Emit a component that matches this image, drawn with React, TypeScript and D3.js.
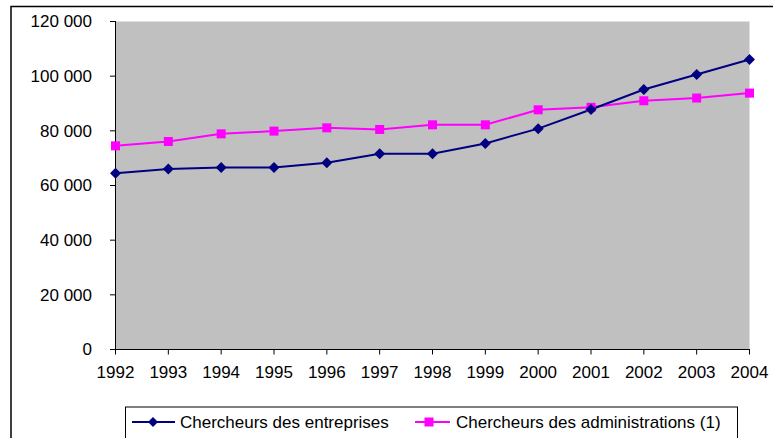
import React from 'react';
import * as d3 from 'd3';

const years = ['1992', '1993', '1994', '1995', '1996', '1997', '1998', '1999', '2000', '2001', '2002', '2003', '2004'];
const entreprises = [64500, 66000, 66600, 66600, 68300, 71600, 71600, 75400, 80800, 87800, 95100, 100600, 106100];
const administrations = [74500, 76100, 78900, 79900, 81100, 80500, 82200, 82200, 87700, 88600, 91000, 92000, 93800];
const yTicks = [0, 20000, 40000, 60000, 80000, 100000, 120000];
const seriesNames = ['Chercheurs des entreprises', 'Chercheurs des administrations (1)'];

const W = 773;
const H = 438;
const FONT = 'Liberation Sans, Arial, sans-serif';

const fr = d3.formatLocale({ decimal: ',', thousands: ' ', grouping: [3], currency: ['', ''] });
const fmt = fr.format(',d');

const App = () => {
  const x = d3.scalePoint<string>().domain(years).range([115.5, 749.5]);
  const y = d3.scaleLinear().domain([0, 120000]).range([349.5, 21.5]);

  const line = d3.line<number>()
    .x((d, i) => x(years[i]) as number)
    .y((d) => y(d));

  const diamond = (cx: number, cy: number, r = 5.5) =>
    `M${cx},${cy - r}L${cx + r},${cy}L${cx},${cy + r}L${cx - r},${cy}Z`;

  const sq = 9;

  return (
    <svg width={W} height={H} style={{ position: 'absolute', left: 0, top: 0, background: '#fff' }} fontFamily={FONT}>
      {/* outer frame */}
      <path d={`M11,${H}V6.5H${W}`} fill="none" stroke="#000" strokeWidth={1.5} />

      {/* plot area */}
      <rect x={115.5} y={21.5} width={634} height={328} fill="#C0C0C0" />

      {/* y axis */}
      <line x1={115.5} x2={115.5} y1={21} y2={350} stroke="#000" />
      {yTicks.map((t) => (
        <g key={t}>
          <line x1={110} x2={115.5} y1={y(t)} y2={y(t)} stroke="#000" />
          <text x={92} y={y(t)} dy="0.35em" textAnchor="end" fontSize={17} fill="#000">{fmt(t)}</text>
        </g>
      ))}

      {/* x axis */}
      <line x1={115} x2={750} y1={349.5} y2={349.5} stroke="#000" />
      {years.map((yr) => (
        <g key={yr}>
          <line x1={x(yr)} x2={x(yr)} y1={349.5} y2={354.5} stroke="#000" />
          <text x={x(yr)} y={378} textAnchor="middle" fontSize={17} fill="#000">{yr}</text>
        </g>
      ))}

      {/* series */}
      <path d={line(administrations) || ''} fill="none" stroke="#FF00FF" strokeWidth={2} />
      <path d={line(entreprises) || ''} fill="none" stroke="#000080" strokeWidth={2} />
      {administrations.map((v, i) => (
        <rect key={'a' + i} x={(x(years[i]) as number) - sq / 2} y={y(v) - sq / 2} width={sq} height={sq} fill="#FF00FF" />
      ))}
      {entreprises.map((v, i) => (
        <path key={'e' + i} d={diamond(x(years[i]) as number, y(v))} fill="#000080" />
      ))}

      {/* legend */}
      <rect x={125.5} y={407} width={612} height={40} fill="#fff" stroke="#000" strokeWidth={1} />
      <line x1={132} x2={175} y1={422} y2={422} stroke="#000080" strokeWidth={2} />
      <path d={diamond(153, 422, 5)} fill="#000080" />
      <text x={180} y={422} dy="0.35em" fontSize={17} fill="#000">{seriesNames[0]}</text>
      <line x1={415} x2={450} y1={422} y2={422} stroke="#FF00FF" strokeWidth={2} />
      <rect x={429 - 4.5} y={422 - 4.5} width={9} height={9} fill="#FF00FF" />
      <text x={456} y={422} dy="0.35em" fontSize={17} fill="#000">{seriesNames[1]}</text>
    </svg>
  );
};

export default App;
